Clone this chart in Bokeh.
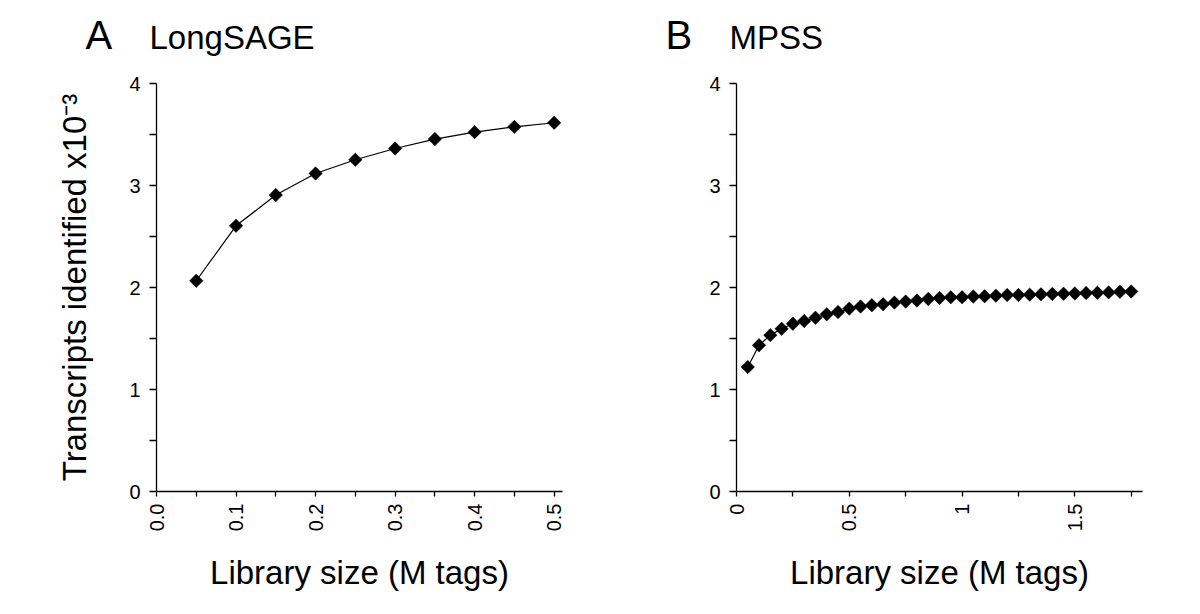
import math
from bokeh.plotting import figure
from bokeh.layouts import row, column
from bokeh.models import Range1d, FixedTicker, PrintfTickFormatter, NumeralTickFormatter
from bokeh.core.properties import value
from bokeh.embed import file_html
from bokeh.resources import INLINE

FONT = "Liberation Sans"

# Panel A: LongSAGE
lib_a = [0.05, 0.10, 0.15, 0.20, 0.25, 0.30, 0.35, 0.40, 0.45, 0.50]
tx_a = [2.066, 2.605, 2.906, 3.118, 3.252, 3.363, 3.455, 3.523, 3.575, 3.615]

# Panel B: MPSS
lib_b = [0.05, 0.10, 0.15, 0.20, 0.25, 0.30, 0.35, 0.40, 0.45, 0.50,
         0.55, 0.60, 0.65, 0.70, 0.75, 0.80, 0.85, 0.90, 0.95, 1.00,
         1.05, 1.10, 1.15, 1.20, 1.25, 1.30, 1.35, 1.40, 1.45, 1.50,
         1.55, 1.60, 1.65, 1.70, 1.75]
tx_b = [1.220, 1.434, 1.533, 1.595, 1.645, 1.671, 1.704, 1.737, 1.760, 1.793,
        1.813, 1.826, 1.836, 1.852, 1.862, 1.872, 1.888, 1.897, 1.904, 1.905,
        1.911, 1.914, 1.920, 1.926, 1.927, 1.930, 1.933, 1.936, 1.939, 1.942,
        1.946, 1.949, 1.952, 1.958, 1.961]

y_ticks = [0, 1, 2, 3, 4]
y_minor = [0.5, 1.5, 2.5, 3.5]
xa_ticks = [0.0, 0.1, 0.2, 0.3, 0.4, 0.5]
xa_minor = [0.05, 0.15, 0.25, 0.35, 0.45]
xb_ticks = [0, 0.5, 1.0, 1.5]
xb_minor = [0.25, 0.75, 1.25, 1.75]

panel_letters = ["A", "B"]
panel_titles = ["LongSAGE", "MPSS"]
x_label = "Library size (M tags)"
y_label = "Transcripts identified x10\u207b\u00b3"

FIG_W = 580
HEAD_H = 68


def header(letter, title):
    h = figure(width=FIG_W, height=HEAD_H, x_range=Range1d(0, FIG_W), y_range=Range1d(0, HEAD_H),
               output_backend="svg", toolbar_location=None, title=None,
               x_axis_location=None, y_axis_location=None, min_border=0)
    h.outline_line_color = None
    h.xgrid.visible = False
    h.ygrid.visible = False
    h.text(x=[85], y=[33.5], text=[letter], text_font=value(FONT), text_font_size="40px",
           text_color="black", text_baseline="middle", text_align="left")
    h.text(x=[149], y=[31], text=[title], text_font=value(FONT), text_font_size="33px",
           text_color="black", text_baseline="middle", text_align="left")
    return h


def make(xs, ys, xend, xt, xm, xfmt, ylab):
    p = figure(width=FIG_W, height=538, x_range=Range1d(0, xend), y_range=Range1d(0, 4),
               output_backend="svg", toolbar_location=None, title=None,
               min_border_left=156, min_border_right=18, min_border_top=15,
               min_border_bottom=115)
    p.outline_line_color = None
    p.xgrid.visible = False
    p.ygrid.visible = False

    p.line(xs, ys, line_color="black", line_width=1.2)
    p.scatter(xs, ys, marker="square", size=9.5, angle=math.pi / 4,
              fill_color="black", line_color="black", line_width=0.5)

    for ax in (p.xaxis[0], p.yaxis[0]):
        ax.axis_line_color = "black"
        ax.axis_line_width = 1.3
        ax.major_tick_line_color = "black"
        ax.minor_tick_line_color = "black"
        ax.major_tick_line_width = 1.3
        ax.minor_tick_line_width = 1.3
        ax.major_tick_in = 0
        ax.minor_tick_in = 0
        ax.major_label_text_font = FONT
        ax.major_label_text_font_size = "20px"
        ax.major_label_text_color = "black"
        ax.axis_label_text_font = FONT
        ax.axis_label_text_font_size = "33px"
        ax.axis_label_text_font_style = "normal"
        ax.axis_label_text_color = "black"

    xa = p.xaxis[0]
    xa.ticker = FixedTicker(ticks=xt, minor_ticks=xm)
    xa.formatter = xfmt
    xa.major_tick_out = 5
    xa.minor_tick_out = 5
    xa.major_label_orientation = math.pi / 2
    xa.major_label_standoff = 7
    xa.axis_label = x_label
    xa.axis_label_standoff = 20

    ya = p.yaxis[0]
    ya.ticker = FixedTicker(ticks=y_ticks, minor_ticks=y_minor)
    ya.major_tick_out = 7
    ya.minor_tick_out = 7
    ya.major_label_standoff = 9
    if ylab:
        ya.axis_label = ylab
        ya.axis_label_standoff = 33
    return p


ha = header(panel_letters[0], panel_titles[0])
hb = header(panel_letters[1], panel_titles[1])
pa = make(lib_a, tx_a, 0.5105, xa_ticks, xa_minor, PrintfTickFormatter(format="%.1f"), y_label)
pb = make(lib_b, tx_b, 1.8, xb_ticks, xb_minor, NumeralTickFormatter(format="0.[0]"), None)

layout = column(row(ha, hb), row(pa, pb))
open("out.html", "w").write(file_html(layout, INLINE))
